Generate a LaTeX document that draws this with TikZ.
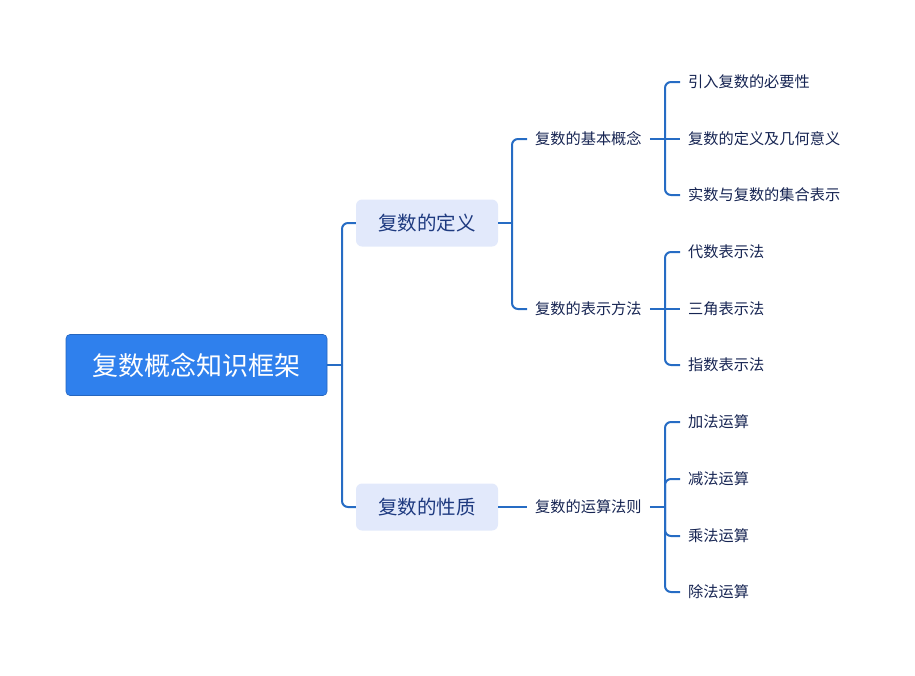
\documentclass[tikz,border=0pt]{standalone}
\usepackage{fontspec}
\setmainfont{Noto Sans CJK SC}
\definecolor{rootblue}{RGB}{47,128,237}
\definecolor{lightbox}{RGB}{226,233,251}
\definecolor{linecol}{RGB}{38,108,196}
\definecolor{txtA}{RGB}{30,58,128}
\definecolor{txtB}{RGB}{22,36,82}
\tikzset{
  rootbox/.style={draw=rootblue!80!black, line width=0.6pt, fill=rootblue, rounded corners=4pt,
    minimum width=261pt, minimum height=61pt, text=white, font=\fontsize{26}{31}\selectfont, inner sep=0pt},
  lvlone/.style={fill=lightbox, rounded corners=6pt, minimum width=142pt, minimum height=47pt,
    text=txtA, font=\fontsize{19.5}{23}\selectfont, inner sep=0pt},
  leaf/.style={anchor=west, text=txtB, font=\fontsize{15.2}{18}\selectfont, inner xsep=8pt, inner ysep=2pt},
  conn/.style={draw=linecol, line width=2pt, rounded corners=6pt}
}
\begin{document}
\begin{tikzpicture}[x=1pt,y=-1pt]
\useasboundingbox (0,0) rectangle (915,675);
\node[rootbox] (root) at (196.5,365) {复数概念知识框架};
\node[lvlone] (d1) at (427,223) {复数的定义};
\node[lvlone] (d2) at (427,507) {复数的性质};

\node[leaf] (a1) at (527,139) {复数的基本概念};
\node[leaf] (a2) at (527,309) {复数的表示方法};
\node[leaf] (a3) at (527,507) {复数的运算法则};

\node[leaf] (b1) at (680,82) {引入复数的必要性};
\node[leaf] (b2) at (680,139) {复数的定义及几何意义};
\node[leaf] (b3) at (680,195) {实数与复数的集合表示};
\node[leaf] (c1) at (680,252) {代数表示法};
\node[leaf] (c2) at (680,309) {三角表示法};
\node[leaf] (c3) at (680,365) {指数表示法};
\node[leaf] (e1) at (680,422) {加法运算};
\node[leaf] (e2) at (680,479) {减法运算};
\node[leaf] (e3) at (680,536) {乘法运算};
\node[leaf] (e4) at (680,592) {除法运算};

% level 1
\coordinate (j0) at (342,365);
\draw[conn] (root.east) -- (j0);
\draw[conn] (j0) |- (d1.west);
\draw[conn] (j0) |- (d2.west);
% level 2
\coordinate (j1) at (512,223);
\draw[conn] (d1.east) -- (j1);
\draw[conn] (j1) |- (a1.west);
\draw[conn] (j1) |- (a2.west);
\draw[conn] (d2.east) -- (a3.west);
% level 3
\coordinate (k1) at (665,139);
\draw[conn] (a1.east) -- (k1);
\draw[conn] (k1) |- (b1.west);
\draw[conn] (k1) -- (b2.west);
\draw[conn] (k1) |- (b3.west);
\coordinate (k2) at (665,309);
\draw[conn] (a2.east) -- (k2);
\draw[conn] (k2) |- (c1.west);
\draw[conn] (k2) -- (c2.west);
\draw[conn] (k2) |- (c3.west);
\coordinate (k3) at (665,507);
\draw[conn] (a3.east) -- (k3);
\draw[conn] (k3) |- (e1.west);
\draw[conn] (k3) |- (e2.west);
\draw[conn] (k3) |- (e3.west);
\draw[conn] (k3) |- (e4.west);
\end{tikzpicture}
\end{document}
